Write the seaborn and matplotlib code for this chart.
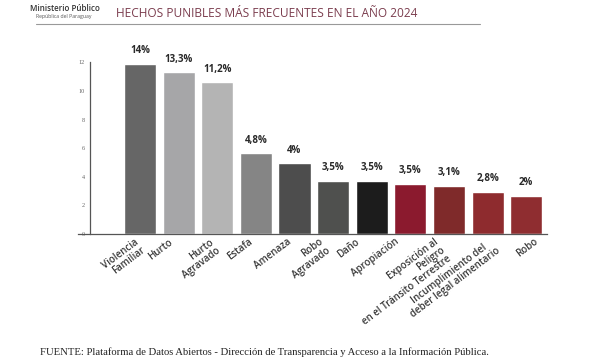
import matplotlib
matplotlib.use("Agg")
import matplotlib.pyplot as plt
import matplotlib.transforms as mtransforms
import pandas as pd
import seaborn as sns

CATEGORIAS = [
    "Violencia\nFamiliar",
    "Hurto",
    "Hurto\nAgravado",
    "Estafa",
    "Amenaza",
    "Robo\nAgravado",
    "Daño",
    "Apropiación",
    "Exposición al\nPeligro\nen el Tránsito Terrestre",
    "Incumplimiento del\ndeber legal alimentario",
    "Robo",
]
ALTURAS = [11.9, 11.3, 10.6, 5.65, 4.95, 3.7, 3.7, 3.5, 3.35, 2.95, 2.65]
ETIQUETAS = ["14%", "13,3%", "11,2%", "4,8%", "4%", "3,5%", "3,5%", "3,5%", "3,1%", "2,8%", "2%"]
COLORES = [
    "#666666", "#a6a6a8", "#b4b4b4", "#858585", "#4d4d4d", "#4f504e",
    "#1c1c1c", "#8b1a2e", "#7f2a2a", "#8e2b2e", "#8f2d30",
]
Y_TICKS = [0, 2, 4, 6, 8, 10, 12]

# small hand nudges of the rotated category labels (pixels), as in the original
NUDGE_PX = [-6, -10, -8, -8, -8, -14, -17, -16, -15, 2, 8]

TITULO = "HECHOS PUNIBLES MÁS FRECUENTES EN EL AÑO 2024"
FUENTE = ("FUENTE: Plataforma de Datos Abiertos - Dirección de Transparencia "
          "y Acceso a la Información Pública.")


def main() -> None:
    sns.set_theme(style="white")
    plt.rcParams["font.family"] = ["Open Sans", "DejaVu Sans"]

    df = pd.DataFrame({"categoria": CATEGORIAS, "valor": ALTURAS})

    fig = plt.figure(figsize=(6, 3.6), dpi=100)
    ax = fig.add_axes([0.13, 0.35, 0.7817, 0.539])
    sns.barplot(data=df, x="categoria", y="valor", hue="categoria",
                palette=COLORES, width=0.83, legend=False, ax=ax, saturation=1)

    ax.set_xlim(-1.606, 10.54)
    ax.set_ylim(0, 13.57)
    ax.set_xlabel("")
    ax.set_ylabel("")

    for s in ["top", "right"]:
        ax.spines[s].set_visible(False)
    ax.spines["left"].set_position(("data", -1.295))
    ax.spines["left"].set_bounds(0, 12)
    for s in ["left", "bottom"]:
        ax.spines[s].set_color("#555555")
        ax.spines[s].set_linewidth(0.9)

    ax.set_yticks(Y_TICKS)
    ax.tick_params(axis="y", direction="in", length=7.5, width=0.8,
                   color="#555555", pad=3.5, labelsize=4.5, labelcolor="#666666")
    for lab in ax.get_yticklabels():
        lab.set_family(["Liberation Serif"])

    # category labels, rotated, placed under each bar
    ax.set_xticks(range(len(CATEGORIAS)))
    ax.set_xticklabels([])
    ax.tick_params(axis="x", length=0)
    for i, (cat, dx) in enumerate(zip(CATEGORIAS, NUDGE_PX)):
        off = mtransforms.ScaledTranslation(dx / 100, -2.5 / 100, fig.dpi_scale_trans)
        ax.text(i, 0, cat, transform=ax.get_xaxis_transform() + off,
                rotation=37, rotation_mode="anchor", ha="right", va="top",
                multialignment="center" if cat.startswith("Incumplimiento") else "right",
                linespacing=0.95, fontsize=7, fontweight="semibold",
                color="#3a3a3a")

    for i, (h, t) in enumerate(zip(ALTURAS, ETIQUETAS)):
        ax.annotate(t, (i, h), xytext=(0, 5.5), textcoords="offset points",
                    ha="center", va="bottom", fontsize=7,
                    fontweight="bold", color="#2a2a2a")

    fig.text(0.05, 0.988, "Ministerio Público", fontsize=5.8,
             fontweight="semibold", color="#333333", va="top", ha="left")
    fig.text(0.06, 0.96, "República del Paraguay", fontsize=3.7,
             color="#555555", va="top", ha="left")
    fig.text(0.445, 0.963, TITULO, fontsize=8.6, color="#7b3d4e",
             ha="center", va="center")
    fig.add_artist(plt.Line2D([0.06, 0.8], [0.933, 0.933],
                              color="#999999", linewidth=0.8))
    fig.text(0.067, 0.022, FUENTE, fontsize=7.7, family=["Liberation Serif"],
             color="#222222", ha="left", va="center")

    fig.savefig("out.png", dpi=100)
    plt.close(fig)


if __name__ == "__main__":
    main()
